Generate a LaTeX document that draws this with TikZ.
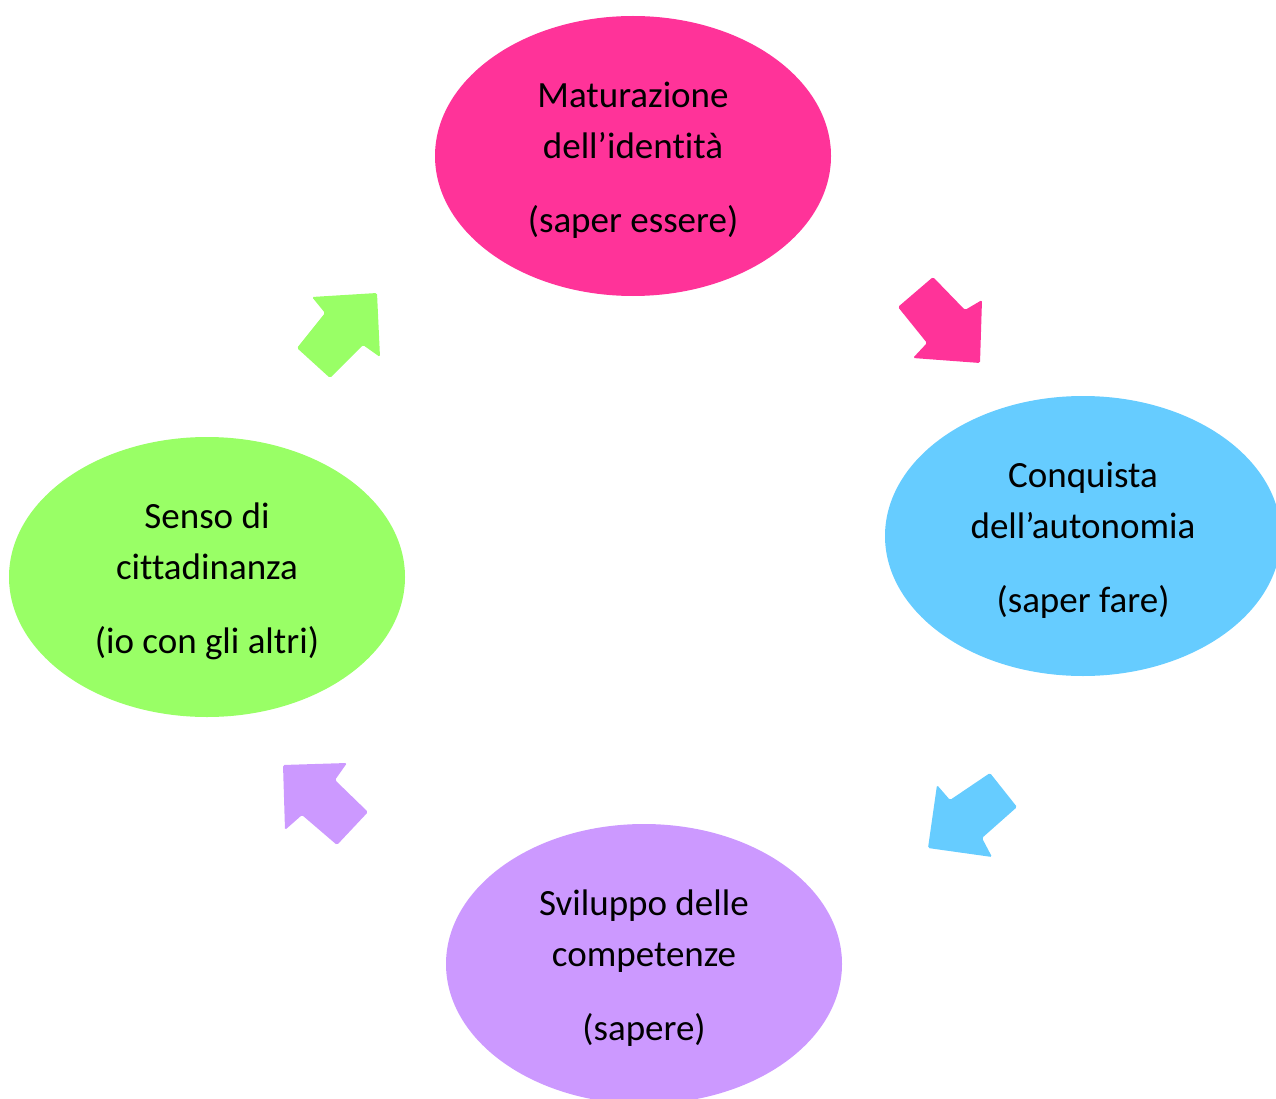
\documentclass[tikz,border=0pt]{standalone}
\usepackage{fontspec}
\setmainfont{Carlito}[Ligatures=NoCommon]
\usetikzlibrary{shapes.geometric}
\definecolor{cpink}{HTML}{FF3399}
\definecolor{cblue}{HTML}{66CCFF}
\definecolor{cpurple}{HTML}{CC99FF}
\definecolor{cgreen}{HTML}{99FF66}
\tikzset{
  bubble/.style={ellipse, minimum width=396pt, minimum height=280pt, inner sep=0pt},
  bubbletext/.style={align=center, inner sep=0pt, font=\fontsize{37}{51}\selectfont, text=black},
  blockarrow/.style={rounded corners=1.5pt}
}
\begin{document}
\begin{tikzpicture}[x=1pt,y=-1pt]
\useasboundingbox (0,0) rectangle (1276,1099);
\node[bubble, fill=cpink]   (ident) at (633,156) {};
\node[bubble, fill=cblue]   (auton) at (1083,536) {};
\node[bubble, fill=cpurple] (comp)  at (644,964) {};
\node[bubble, fill=cgreen]  (citt)  at (207,577) {};
\node[bubbletext] (identT) at ([yshift=-4pt]ident.center) {Maturazione\\dell’identità\\[23pt](saper essere)};
\node[bubbletext] (autonT) at ([yshift=-4pt]auton.center) {Conquista\\dell’autonomia\\[23pt](saper fare)};
\node[bubbletext] (compT)  at ([yshift=-4pt]comp.center) {Sviluppo delle\\competenze\\[23pt](sapere)};
\node[bubbletext] (cittT)  at ([yshift=-4pt]citt.center) {Senso di\\cittadinanza\\[23pt](io con gli altri)};
% pink arrow (identity -> autonomy)
\fill[cpink, blockarrow] (933,277) -- (965,310) -- (982,300) -- (980,363) -- (913,358) -- (927,343) -- (898,307) -- cycle;
% blue arrow (autonomy -> competences)
\fill[cblue, blockarrow] (990,773) -- (1017,807) -- (982,838) -- (992,857) -- (928,848) -- (937,785) -- (950,800) -- cycle;
% purple arrow (competences -> citizenship)
\fill[cpurple, blockarrow] (368,812) -- (337,845) -- (302,815) -- (285,830) -- (283,765) -- (347,763) -- (335,780) -- cycle;
% green arrow (citizenship -> identity)
\fill[cgreen, blockarrow] (297,348) -- (330,378) -- (363,345) -- (380,357) -- (377,293) -- (312,297) -- (325,313) -- cycle;
\end{tikzpicture}
\end{document}
